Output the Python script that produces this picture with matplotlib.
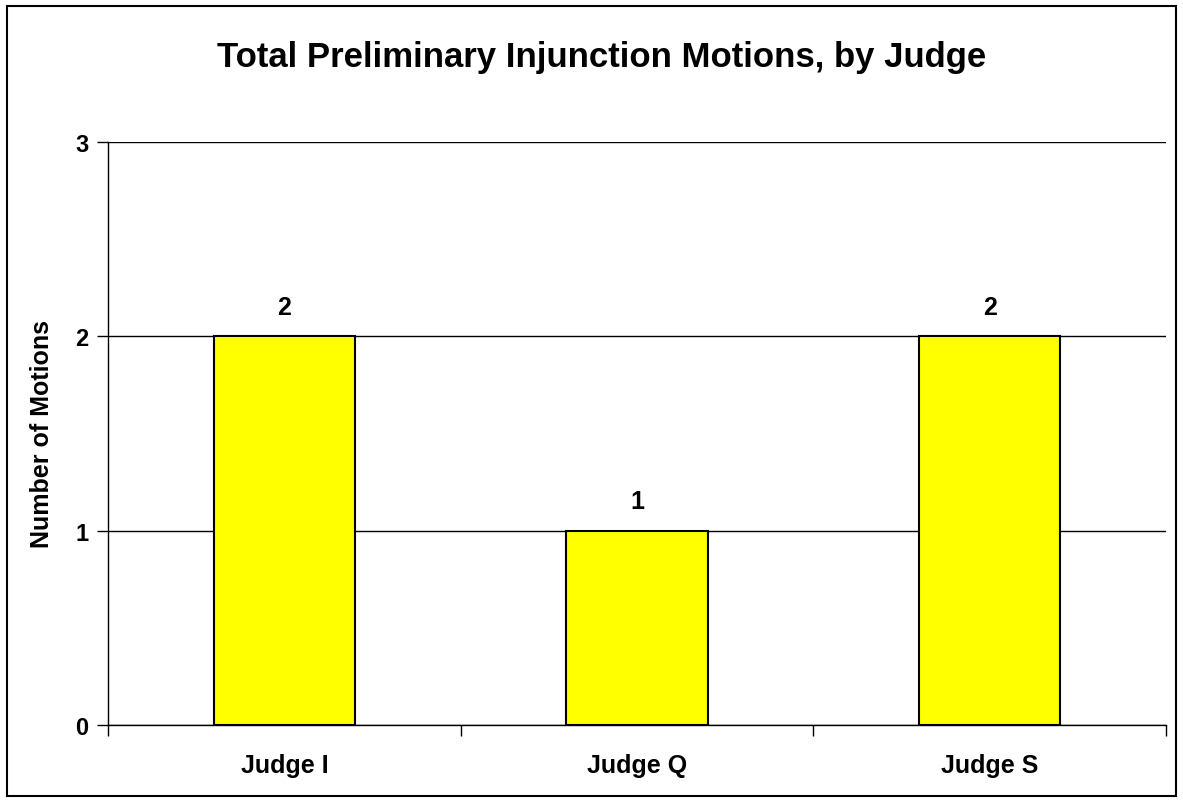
import matplotlib.pyplot as plt
from matplotlib.patches import Rectangle

plt.rcParams['font.family'] = ['Liberation Sans', 'DejaVu Sans']
plt.rcParams['font.weight'] = 'bold'

# data
judges = ['Judge I', 'Judge Q', 'Judge S']
motions = [2, 1, 2]
yticks = [0, 1, 2, 3]

fig = plt.figure(figsize=(11.83, 8.04), dpi=100)
ax = fig.add_axes([108 / 1183, 1 - 726 / 804, (1166 - 108) / 1183, (726 - 143) / 804])

x = list(range(len(judges)))
bars = ax.bar(x, motions, width=0.4, color='#ffff00', edgecolor='black', linewidth=1.5, zorder=3)
for xi, v in zip(x, motions):
    ax.text(xi, v + 0.09, str(v), ha='center', va='bottom', fontsize=18, fontweight='bold')

ax.set_xlim(-0.5, len(judges) - 0.5)
ax.set_ylim(0, 3)
ax.set_yticks(yticks)
ax.set_yticklabels([str(t) for t in yticks], fontsize=17, fontweight='bold')
ax.set_xticks(x)
ax.set_xticklabels(judges, fontsize=18, fontweight='bold')
ax.tick_params(axis='x', length=0, pad=20)
ax.set_xticks([-0.5, 0.5, 1.5, 2.5], minor=True)
ax.tick_params(axis='x', which='minor', length=8, direction='out', width=1)
ax.tick_params(axis='y', length=8, width=1, pad=6)
ax.grid(axis='y', color='black', linewidth=1, zorder=0)
for s in ['top', 'right']:
    ax.spines[s].set_visible(False)
ax.spines['left'].set_linewidth(1)
ax.spines['bottom'].set_linewidth(1)
ax.set_ylabel('Number of Motions', fontsize=18, fontweight='bold', labelpad=15)

fig.text(602 / 1183, 1 - 58 / 804, 'Total Preliminary Injunction Motions, by Judge',
         ha='center', va='center', fontsize=25, fontweight='bold')

fig.patches.append(Rectangle((7 / 1183, 7 / 804), 1169 / 1183, 790 / 804,
                             transform=fig.transFigure, fill=False, edgecolor='black', linewidth=1.5))

fig.savefig('out.png', dpi=100)
